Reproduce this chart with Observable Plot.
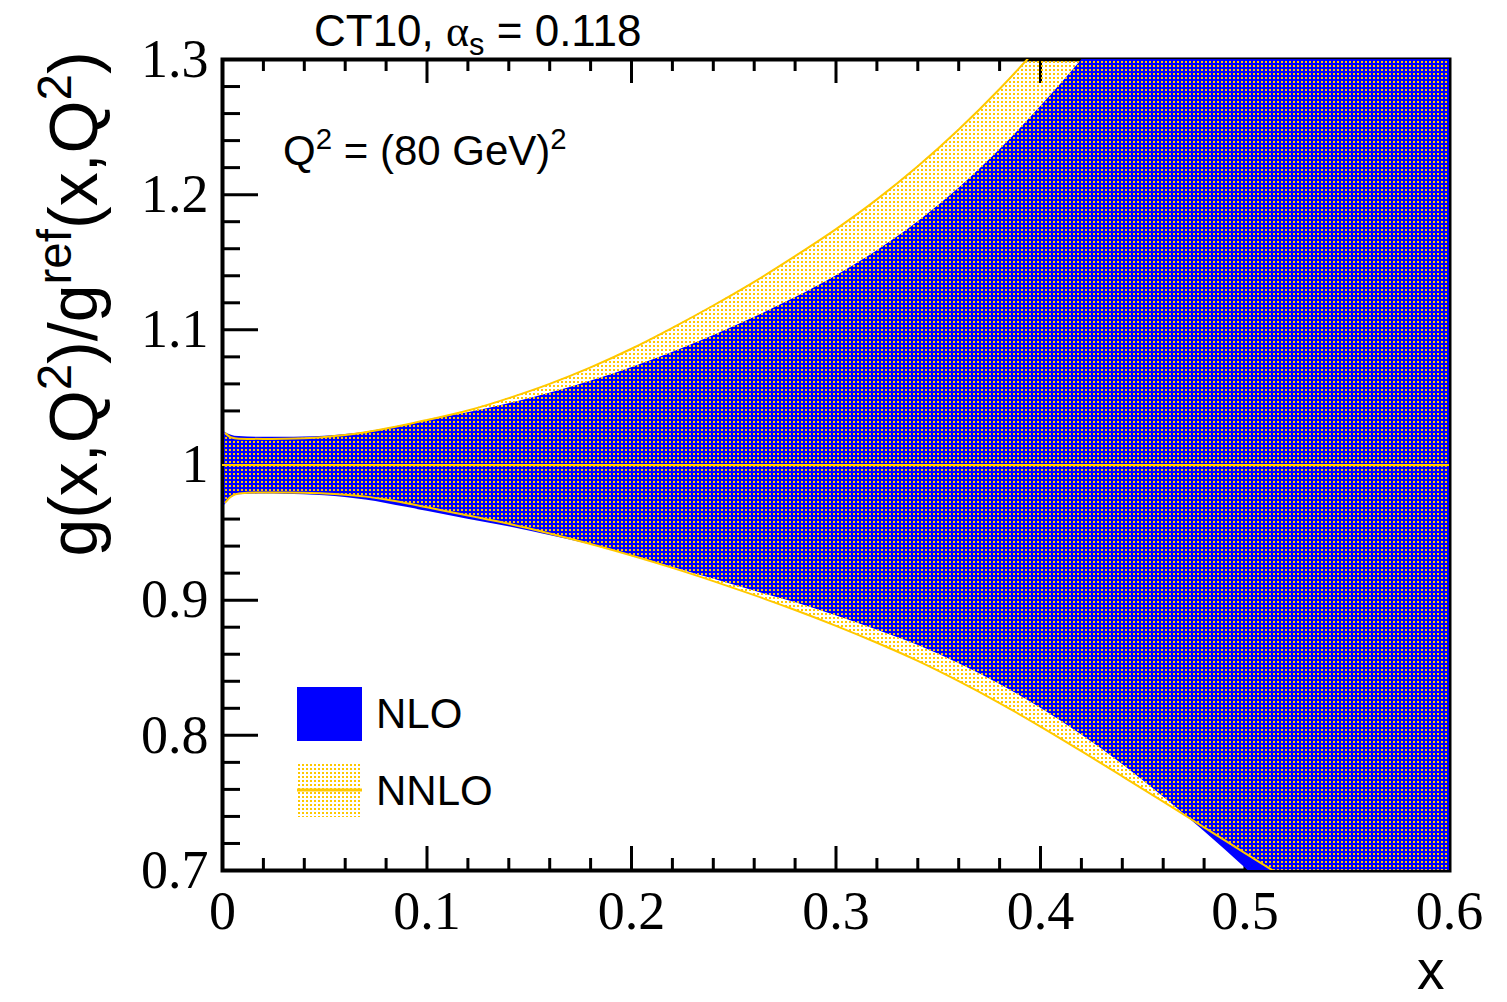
<!DOCTYPE html>
<html><head><meta charset="utf-8">
<script src="https://cdn.jsdelivr.net/npm/d3@7"></script>
<script src="https://cdn.jsdelivr.net/npm/@observablehq/plot@0.6"></script>
<style>
html,body{margin:0;padding:0;background:#fff;}
#wrap{position:relative;width:1507px;height:1002px;overflow:hidden;font-family:"Liberation Sans",Arial,sans-serif;color:#000;}
.ann{position:absolute;white-space:nowrap;line-height:1;}
.ann sup,.ann sub{font-size:0.7em;line-height:0;position:relative;vertical-align:baseline;}
.ann sup{top:-0.55em;}
.ann sub{top:0.3em;}
.greek{font-family:"Liberation Serif","DejaVu Serif",serif;}
</style></head><body><div id="wrap"></div>
<script>
// ---- data ----
const nloX    = [0.001,0.004,0.008,0.02,0.03,0.04,0.05,0.06,0.07,0.08,0.09,0.1,0.12,0.14,0.16,0.18,0.2,0.22,0.24,0.26,0.28,0.3,0.32,0.34,0.36,0.38,0.4,0.42,0.44,0.46,0.48,0.5,0.52,0.54,0.56,0.58,0.6];
const nloHigh = [1.0245,1.0222,1.0210,1.0205,1.0205,1.0207,1.0213,1.0225,1.0243,1.0268,1.0298,1.0330,1.0386,1.0453,1.0531,1.0620,1.0720,1.0832,1.0956,1.1091,1.1237,1.1399,1.1583,1.1797,1.2045,1.2330,1.2650,1.2995,1.336,1.373,1.411,1.450,1.490,1.531,1.573,1.616,1.660];
const nloLow  = [0.970,0.9752,0.978,0.9785,0.9784,0.978,0.9773,0.976,0.9741,0.9716,0.9687,0.9657,0.9599,0.9543,0.9478,0.9410,0.9330,0.9244,0.9156,0.9067,0.8982,0.8885,0.8780,0.8666,0.8532,0.8378,0.8202,0.8004,0.7786,0.7545,0.7290,0.7020,0.6740,0.645,0.615,0.585,0.555];

const nnloX    = [0.0015,0.004,0.008,0.02,0.03,0.04,0.05,0.06,0.07,0.08,0.09,0.1,0.12,0.14,0.16,0.18,0.2,0.22,0.24,0.26,0.28,0.3,0.32,0.34,0.36,0.38,0.4,0.42,0.44,0.46,0.48,0.5,0.52,0.54,0.56,0.58,0.6];
const nnloHigh = [1.0235,1.0205,1.0195,1.0193,1.0194,1.0198,1.0207,1.0222,1.0243,1.0270,1.0300,1.0333,1.0403,1.0495,1.0600,1.0722,1.0860,1.1015,1.1180,1.1355,1.1545,1.1745,1.1965,1.2210,1.2482,1.2782,1.3110,1.3460,1.383,1.421,1.460,1.500,1.540,1.580,1.620,1.660,1.700];
const nnloLow  = [0.9725,0.9765,0.979,0.9797,0.9797,0.9795,0.979,0.978,0.9766,0.9744,0.9717,0.9687,0.9627,0.9565,0.9493,0.9415,0.9330,0.9239,0.9141,0.9037,0.8927,0.8810,0.8685,0.8551,0.8401,0.8239,0.8065,0.7883,0.7697,0.7509,0.7319,0.7129,0.6939,0.6749,0.6559,0.6369,0.6179];
const centralRatio = [1];

const xMajor = [0,0.1,0.2,0.3,0.4,0.5,0.6];
const xTickLabels = ["0","0.1","0.2","0.3","0.4","0.5","0.6"];
const xMinor = [0.02,0.04,0.06,0.08,0.12,0.14,0.16,0.18,0.22,0.24,0.26,0.28,0.32,0.34,0.36,0.38,0.42,0.44,0.46,0.48,0.52,0.54,0.56,0.58];
const yMajor = [0.7,0.8,0.9,1,1.1,1.2,1.3];
const yTickLabels = ["0.7","0.8","0.9","1","1.1","1.2","1.3"];
const yMinor = [0.72,0.74,0.76,0.78,0.82,0.84,0.86,0.88,0.92,0.94,0.96,0.98,1.02,1.04,1.06,1.08,1.12,1.14,1.16,1.18,1.22,1.24,1.26,1.28];

// ---- layout ----
const W = 1507, H = 1002;
const mT = 59, mB = 132, mL = 222, mR = 58;
const fw = W - mL - mR, fh = H - mT - mB;
const BLUE = "#0000ff", GOLD = "#ffc800";
const serif = "Liberation Serif, Times New Roman, serif";

const nloIdx = d3.range(nloX.length);
const nnloIdx = d3.range(nnloX.length);

const chart = Plot.plot({
  width: W, height: H,
  marginTop: mT, marginBottom: mB, marginLeft: mL, marginRight: mR,
  x: {domain: [0, 0.6], axis: null},
  y: {domain: [0.7, 1.3], axis: null},
  style: {background: "white", overflow: "visible"},
  marks: [
    // inward ticks (ROOT style, on all four sides)
    Plot.ruleX(xMinor, {x: d => d, insetTop: fh - 12, stroke: "black", strokeWidth: 3}),
    Plot.ruleX(xMinor, {x: d => d, insetBottom: fh - 12, stroke: "black", strokeWidth: 3}),
    Plot.ruleX(xMajor, {x: d => d, insetTop: fh - 24, stroke: "black", strokeWidth: 3}),
    Plot.ruleX(xMajor, {x: d => d, insetBottom: fh - 24, stroke: "black", strokeWidth: 3}),
    Plot.ruleY(yMinor, {y: d => d, insetRight: fw - 18, stroke: "black", strokeWidth: 3}),
    Plot.ruleY(yMinor, {y: d => d, insetLeft: fw - 18, stroke: "black", strokeWidth: 3}),
    Plot.ruleY(yMajor, {y: d => d, insetRight: fw - 36, stroke: "black", strokeWidth: 3}),
    Plot.ruleY(yMajor, {y: d => d, insetLeft: fw - 36, stroke: "black", strokeWidth: 3}),
    Plot.frame({stroke: "black", strokeWidth: 4}),
    // NLO band
    Plot.areaY(nloIdx, {x: i => nloX[i], y1: i => nloLow[i], y2: i => nloHigh[i], fill: BLUE, curve: "monotone-x", clip: true}),
    // NNLO band (dotted)
    Plot.areaY(nnloIdx, {x: i => nnloX[i], y1: i => nnloLow[i], y2: i => nnloHigh[i], fill: "url(#nnloDots)", curve: "monotone-x", clip: true}),
    Plot.lineY(nnloIdx, {x: i => nnloX[i], y: i => nnloHigh[i], stroke: GOLD, strokeWidth: 2, curve: "monotone-x", clip: true}),
    Plot.lineY(nnloIdx, {x: i => nnloX[i], y: i => nnloLow[i], stroke: GOLD, strokeWidth: 2, curve: "monotone-x", clip: true}),
    Plot.ruleY(centralRatio, {y: d => d, stroke: GOLD, strokeWidth: 2}),
    // tick labels
    Plot.text(xMajor, {x: d => d, text: (d, i) => xTickLabels[i], frameAnchor: "bottom", lineAnchor: "top", dy: 20, fontSize: 54, fontFamily: serif, fill: "black"}),
    Plot.text(yMajor, {y: d => d, text: (d, i) => yTickLabels[i], frameAnchor: "left", textAnchor: "end", dx: -14, fontSize: 54, fontFamily: serif, fill: "black"})
  ]
});

const wrap = document.getElementById("wrap");
wrap.appendChild(chart);
const svgEl = chart.tagName.toLowerCase() === "svg" ? chart : chart.querySelector("svg");
const svg = d3.select(svgEl);
const defs = svg.insert("defs", ":first-child");
const pat = defs.append("pattern").attr("id", "nnloDots").attr("patternUnits", "userSpaceOnUse").attr("width", 4).attr("height", 4);
pat.append("rect").attr("x", 1).attr("y", 1).attr("width", 2).attr("height", 2).attr("fill", GOLD);

function ann(html, css) {
  const d = document.createElement("div");
  d.className = "ann";
  d.innerHTML = html;
  Object.assign(d.style, css);
  wrap.appendChild(d);
  return d;
}
// title
ann('CT10, <span class="greek">&alpha;</span><sub>s</sub> = 0.118', {left: "314px", top: "9px", fontSize: "44px"});
// Q^2
ann('Q<sup>2</sup> = (80 GeV)<sup>2</sup>', {left: "283px", top: "130px", fontSize: "42px"});
// y label
ann('g(x,Q<sup>2</sup>)/g<sup>ref</sup>(x,Q<sup>2</sup>)', {left: "73px", top: "304px", fontSize: "68px", transform: "translate(-50%,-50%) rotate(-90deg)"});
// x label
ann('x', {left: "1417px", top: "940px", fontSize: "55px", lineHeight: "1.117"});
// legend
ann('<svg width="65" height="54"><rect width="65" height="54" fill="' + BLUE + '"/></svg>', {left: "297px", top: "687px"});
ann('NLO', {left: "376px", top: "693px", fontSize: "42px"});
ann('<svg width="65" height="54"><rect width="65" height="54" fill="url(#nnloDots)"/><line x1="0" x2="65" y1="27" y2="27" stroke="' + GOLD + '" stroke-width="3"/></svg>', {left: "297px", top: "763px"});
ann('NNLO', {left: "376px", top: "770px", fontSize: "42px"});
</script></body></html>
